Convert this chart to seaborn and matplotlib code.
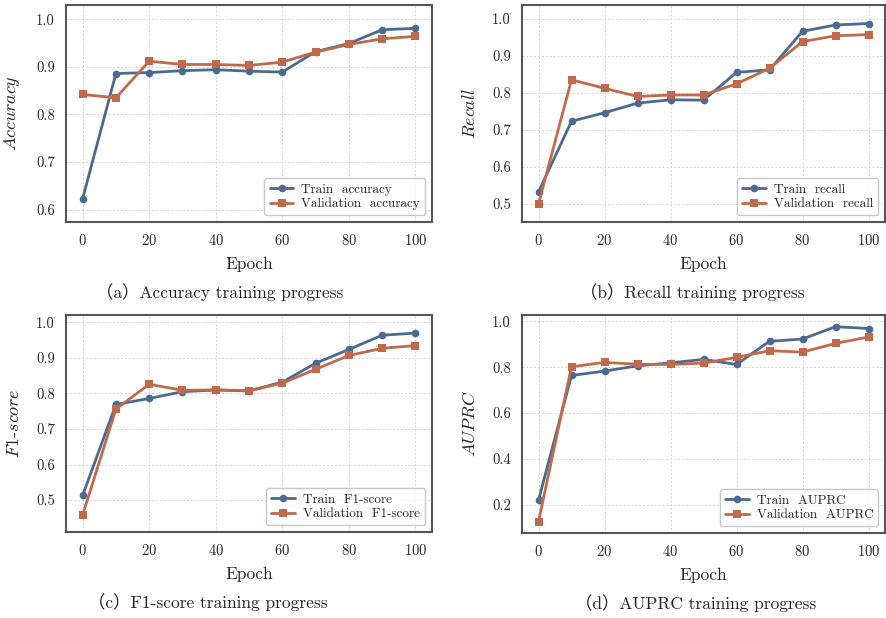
import numpy as np
import pandas as pd
import matplotlib
matplotlib.use("Agg")
import matplotlib.pyplot as plt
import seaborn as sns

# Datos
epochs = [0, 10, 20, 30, 40, 50, 60, 70, 80, 90, 100]

train_acc = [0.623, 0.886, 0.888, 0.892, 0.894, 0.891, 0.889, 0.932, 0.949, 0.978, 0.981]
val_acc = [0.842, 0.835, 0.912, 0.905, 0.905, 0.903, 0.910, 0.931, 0.947, 0.959, 0.964]

train_recall = [0.532, 0.723, 0.746, 0.772, 0.781, 0.780, 0.855, 0.862, 0.966, 0.983, 0.987]
val_recall = [0.500, 0.835, 0.812, 0.790, 0.794, 0.794, 0.824, 0.866, 0.938, 0.954, 0.957]

train_f1 = [0.513, 0.769, 0.786, 0.805, 0.810, 0.807, 0.832, 0.885, 0.924, 0.964, 0.970]
val_f1 = [0.458, 0.756, 0.826, 0.809, 0.810, 0.808, 0.829, 0.868, 0.907, 0.927, 0.935]

train_auprc = [0.219, 0.764, 0.783, 0.806, 0.819, 0.834, 0.812, 0.913, 0.923, 0.977, 0.969]
val_auprc = [0.126, 0.802, 0.821, 0.813, 0.812, 0.818, 0.843, 0.872, 0.866, 0.904, 0.932]

sns.set_theme(style="whitegrid")
plt.rcParams["font.family"] = ["cmr10", "Noto Sans CJK SC", "DejaVu Serif"]
plt.rcParams["mathtext.fontset"] = "cm"
plt.rcParams["axes.formatter.use_mathtext"] = True

blue = "#4b6a93"
orange = "#c1694b"

paneles = [
    # (train, val, nombre legend, ylabel, ylim, yticks, caption, caja en px, x caption)
    (train_acc, val_acc, "accuracy", r"$Accuracy$", (0.574, 1.030),
     [0.6, 0.7, 0.8, 0.9, 1.0], "（a）Accuracy training progress",
     [66, 5, 432, 222], 220),
    (train_recall, val_recall, "recall", r"$Recall$", (0.451, 1.037),
     [0.5, 0.6, 0.7, 0.8, 0.9, 1.0], "（b）Recall training progress",
     [522, 5, 885, 222], 692),
    (train_f1, val_f1, "F1-score", r"$F1$-$score$", (0.410, 1.021),
     [0.5, 0.6, 0.7, 0.8, 0.9, 1.0], "（c）F1-score training progress",
     [66, 315, 432, 532], 208),
    (train_auprc, val_auprc, "AUPRC", r"$AUPRC$", (0.076, 1.028),
     [0.2, 0.4, 0.6, 0.8, 1.0], "（d）AUPRC training progress",
     [522, 315, 885, 533], 696),
]

W, H = 886, 618
fig = plt.figure(figsize=(W / 100, H / 100), dpi=100)
fig.patch.set_facecolor("white")

for tr, va, nombre, ylab, ylim, yticks, caption, box, cap_x in paneles:
    x0, y0, x1, y1 = box
    ax = fig.add_axes([x0 / W, 1 - y1 / H, (x1 - x0) / W, (y1 - y0) / H])

    df = pd.DataFrame({
        "epoch": epochs * 2,
        "value": tr + va,
        "serie": [f"Train  {nombre}"] * len(epochs) + [f"Validation  {nombre}"] * len(epochs),
    })
    sns.lineplot(data=df, x="epoch", y="value", hue="serie", style="serie",
                 markers=["o", "s"], dashes=False, palette=[blue, orange],
                 linewidth=2, markersize=5.5, markeredgewidth=0, ax=ax)

    ax.set_xlim(-5, 105)
    ax.set_ylim(*ylim)
    ax.set_xticks([0, 20, 40, 60, 80, 100])
    ax.set_yticks(yticks)
    ax.set_yticklabels([f"{t:.1f}" for t in yticks])
    ax.tick_params(axis="both", labelsize=10.5, length=3, width=0.8,
                   color="#cccccc", direction="out", pad=5)
    ax.grid(True, linestyle=(0, (2, 2)), color="#d5d5d5", linewidth=0.7)
    for s in ax.spines.values():
        s.set_color("#555555")
        s.set_linewidth(1.5)

    ax.set_xlabel("Epoch", fontsize=12.5, labelpad=6)
    ax.set_ylabel(ylab, fontsize=13, labelpad=10)

    leg = ax.legend(loc="lower right", fontsize=9.5, frameon=True, handlelength=1.8,
                    borderpad=0.4, labelspacing=0.15, handletextpad=0.6,
                    borderaxespad=0.5)
    leg.get_frame().set_edgecolor("#bbbbbb")
    leg.get_frame().set_linewidth(1.0)

    fig.text(cap_x / W, 1 - (y1 + 70) / H, caption, ha="center", va="center",
             fontsize=12.5, color="#222222")

plt.savefig("out.png", dpi=100)
